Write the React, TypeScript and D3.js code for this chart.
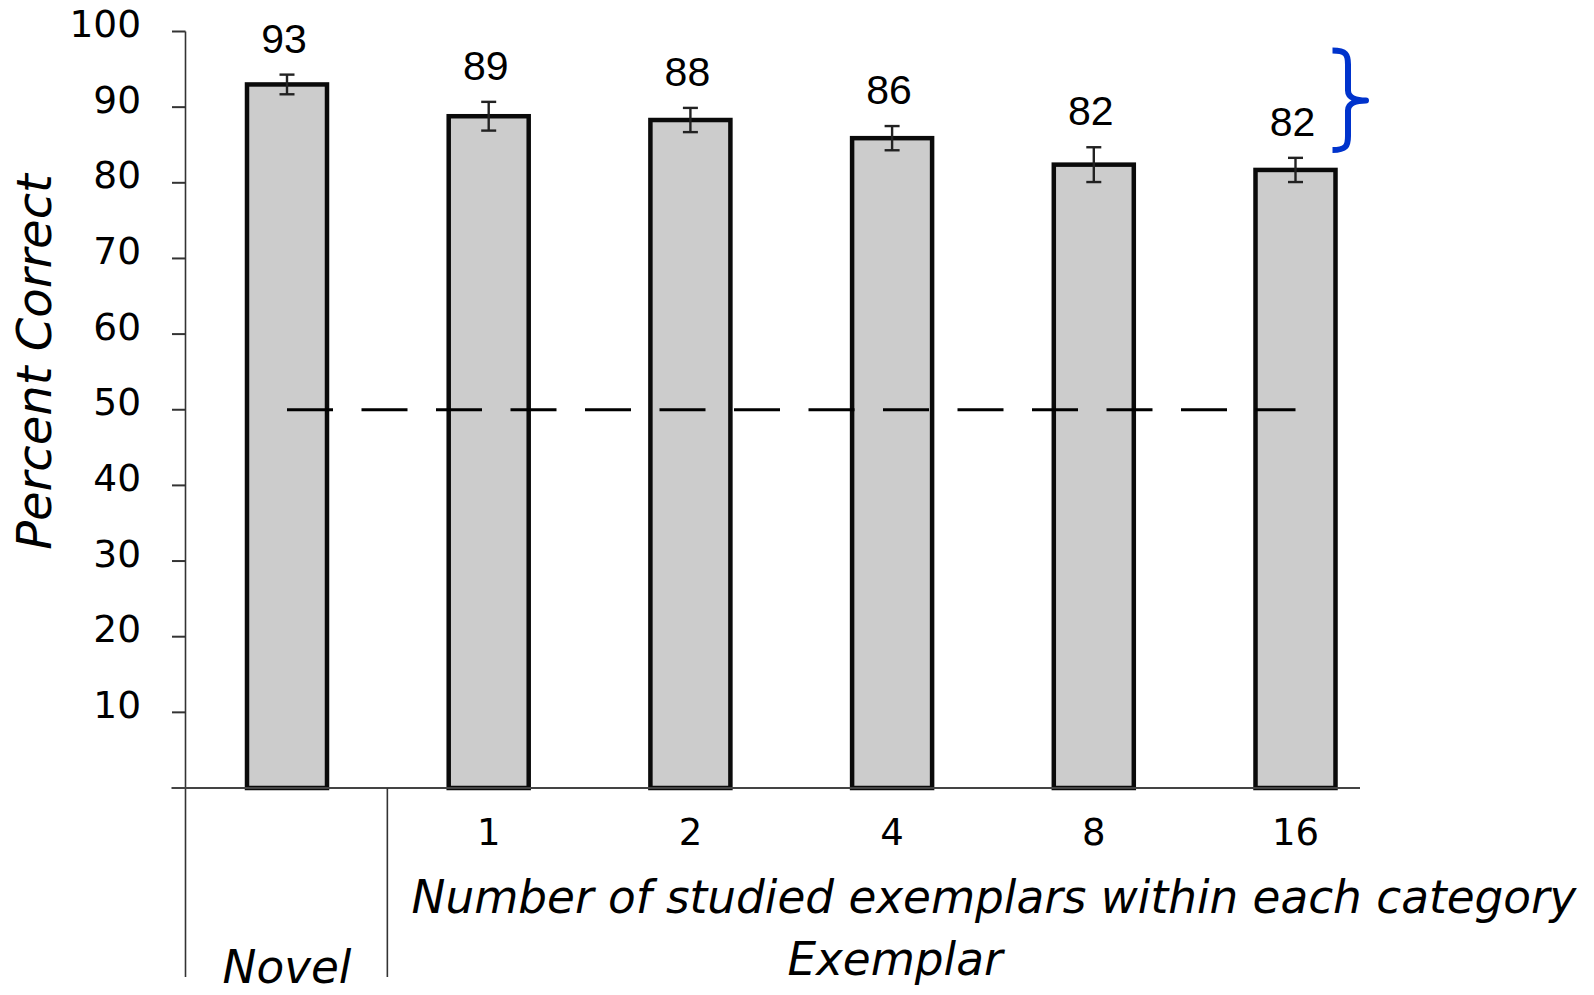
import React from "react";
import * as d3 from "d3";

const categories = ["Novel", "1", "2", "4", "8", "16"];
const values = [93.0, 88.8, 88.3, 85.9, 82.4, 81.7];
const errors = [1.3, 1.9, 1.6, 1.6, 2.3, 1.6];
const valueLabels = ["93", "89", "88", "86", "82", "82"];
const yTicks = [10, 20, 30, 40, 50, 60, 70, 80, 90, 100];
const chanceLevel = 50;
const yTitle = "Percent Correct";
const xTitle = "Number of studied exemplars within each category";
const groupTitle = "Exemplar";
const novelTitle = "Novel";

const W = 1594;
const H = 995;
const SANS = "'DejaVu Sans', Verdana, sans-serif";
const ARIAL = "'Liberation Sans', Arial, Helvetica, sans-serif";

export default function App() {
  const x = d3.scalePoint<string>().domain(categories).range([287, 1295.5]);
  const y = d3.scaleLinear().domain([0, 100]).range([788, 31.5]);
  const barW = 80;
  const axisX = 185.5;
  const base = y(0);
  const bottomEnd = 977;
  const dividerX = (x("Novel")! + x("1")!) / 2 - 0.5;

  // brace geometry (annotation)
  const bTop = 50.5;
  const bBot = 150;
  const bMid = 100.5;
  const bx0 = 1332.5;
  const bx1 = 1348;
  const bx2 = 1366;
  const brace = `M${bx0},${bTop} C${bx1 - 2},${bTop} ${bx1},${bTop + 4} ${bx1},${bTop + 14}
    L${bx1},${bMid - 10} C${bx1},${bMid - 2} ${bx2 - 8},${bMid} ${bx2},${bMid}
    C${bx2 - 8},${bMid} ${bx1},${bMid + 2} ${bx1},${bMid + 10}
    L${bx1},${bBot - 14} C${bx1},${bBot - 4} ${bx1 - 2},${bBot} ${bx0},${bBot}`;

  return (
    <svg
      width={W}
      height={H}
      style={{ position: "absolute", left: 0, top: 0, background: "#fff" }}
    >
      {/* y axis line and ticks */}
      <line x1={axisX} x2={axisX} y1={y(100)} y2={bottomEnd} stroke="#333" strokeWidth={1.6} />
      {yTicks.map((t) => (
        <g key={t}>
          <line x1={172} x2={axisX} y1={y(t)} y2={y(t)} stroke="#333" strokeWidth={2} />
          <text
            x={141}
            y={y(t) + 5.5}
            textAnchor="end"
            fontFamily={SANS}
            fontSize={37.5}
            fill="#000"
          >
            {t}
          </text>
        </g>
      ))}

      {/* bars */}
      {categories.map((c, i) => (
        <rect
          key={c}
          x={x(c)! - barW / 2}
          y={y(values[i])}
          width={barW}
          height={base - y(values[i])}
          fill="#cccccc"
          stroke="#0a0a0a"
          strokeWidth={4.5}
        />
      ))}

      {/* x axis */}
      <line x1={171.5} x2={1360} y1={base} y2={base} stroke="#444" strokeWidth={2} />
      <line x1={dividerX} x2={dividerX} y1={base} y2={bottomEnd} stroke="#333" strokeWidth={1.6} />

      {/* chance line */}
      <line
        x1={x(categories[0])!}
        x2={x(categories[categories.length - 1])!}
        y1={y(chanceLevel)}
        y2={y(chanceLevel)}
        stroke="#000"
        strokeWidth={3}
        strokeDasharray="46 28.5"
      />

      {/* error bars */}
      {categories.map((c, i) => {
        const cx = x(c)!;
        const t = y(values[i] + errors[i]);
        const b = y(values[i] - errors[i]);
        return (
          <g key={c} stroke="#222" strokeWidth={2.4}>
            <line x1={cx} x2={cx} y1={t} y2={b} />
            <line x1={cx - 7.5} x2={cx + 7.5} y1={t} y2={t} />
            <line x1={cx - 7.5} x2={cx + 7.5} y1={b} y2={b} />
          </g>
        );
      })}

      {/* value labels */}
      {categories.map((c, i) => (
        <text
          key={c}
          x={x(c)! - 3}
          y={y(values[i] + errors[i]) - 22}
          textAnchor="middle"
          fontFamily={ARIAL}
          fontSize={41}
          fill="#000"
        >
          {valueLabels[i]}
        </text>
      ))}

      {/* category labels */}
      {categories.slice(1).map((c) => (
        <text
          key={c}
          x={x(c)!}
          y={845}
          textAnchor="middle"
          fontFamily={SANS}
          fontSize={37}
          fill="#000"
        >
          {c}
        </text>
      ))}

      {/* titles */}
      <text
        x={994}
        y={913}
        textAnchor="middle"
        fontFamily={SANS}
        fontStyle="italic"
        fontSize={45.3}
        fill="#000"
      >
        {xTitle}
      </text>
      <text
        x={895}
        y={975}
        textAnchor="middle"
        fontFamily={SANS}
        fontStyle="italic"
        fontSize={45.3}
        fill="#000"
      >
        {groupTitle}
      </text>
      <text
        x={x("Novel")!}
        y={983}
        textAnchor="middle"
        fontFamily={SANS}
        fontStyle="italic"
        fontSize={45.3}
        fill="#000"
      >
        {novelTitle}
      </text>
      <text
        transform={`translate(51,362) rotate(-90)`}
        textAnchor="middle"
        fontFamily={SANS}
        fontStyle="italic"
        fontSize={48}
        fill="#000"
      >
        {yTitle}
      </text>

      {/* blue brace */}
      <path d={brace} fill="none" stroke="#0033cc" strokeWidth={6} strokeLinejoin="round" strokeLinecap="butt" />
    </svg>
  );
}
